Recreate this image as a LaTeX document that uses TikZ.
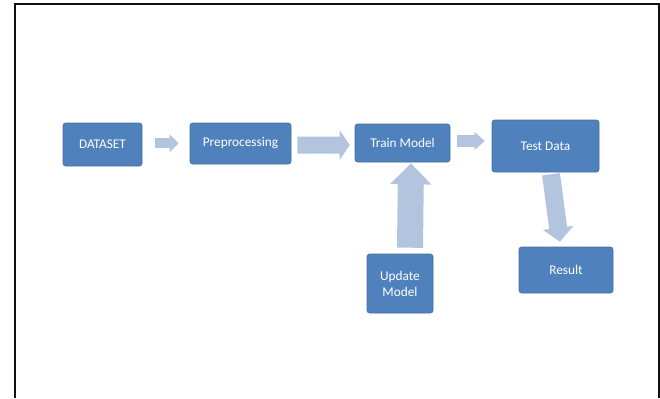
\documentclass[tikz,border=0pt]{standalone}
\usepackage{fontspec}
\setmainfont{Carlito}
\usetikzlibrary{arrows.meta,calc}
\definecolor{boxblue}{HTML}{4F81BD}
\definecolor{boxedge}{HTML}{41719C}
\definecolor{arrowblue}{HTML}{B3C4DE}
\definecolor{framecol}{HTML}{111111}
\tikzset{
  stage/.style={draw=boxedge, line width=0.6bp, fill=boxblue, rounded corners=2.5bp,
    text=white, font=\fontsize{13.3bp}{16bp}\selectfont, align=center,
    inner sep=0pt, anchor=center},
  blockarrow/.style n args={3}{draw=arrowblue, line width=#1, line cap=butt,
    -{Triangle[width=#2, length=#3]}},
}
\begin{document}
\begin{tikzpicture}[x=1bp, y=-1bp]
  \useasboundingbox (0,0) rectangle (660,398);
  % open frame round the diagram
  \draw[framecol, line width=2bp] (15,398) -- (15,4) -- (659,4) -- (659,398);

  % process stages
  \node[stage, minimum width=79bp, minimum height=43bp] (ds) at (102.5,144.5) {DATASET};
  \node[stage, minimum width=101bp, minimum height=41bp] (pp) at (240.5,143.5) {Preprocessing};
  \node[stage, minimum width=95bp, minimum height=38bp] (tm) at (402.5,143) {Train Model};
  \node[stage, minimum width=107bp, minimum height=52bp] (td) at (545.5,146) {Test Data};
  \node[stage, minimum width=66bp, minimum height=59bp] (um) at (400,283.5) {Update\\Model};
  \node[stage, minimum width=94bp, minimum height=46bp] (rs) at (566,270) {Result};

  % block arrows between stages
  \draw[blockarrow={10bp}{17bp}{9bp}] ($(ds.east)+(13,-1.2)$) -- ($(pp.west)+(-11,-0.2)$);
  \draw[blockarrow={17bp}{29bp}{10bp}] ($(pp.east)+(6,1.5)$) -- ($(tm.west)+(-5,2)$);
  \draw[blockarrow={12bp}{17bp}{10bp}] ($(tm.east)+(7,-2)$) -- ($(td.west)+(-7,-5)$);
  \draw[blockarrow={26bp}{40bp}{21bp}] ($(um.north)+(10,-6)$) -- ($(tm.south)+(8.5,1)$);
  \draw[blockarrow={18bp}{30bp}{14bp}] ($(td.south)+(5.5,2)$) -- ($(rs.north)+(-6,-5)$);
\end{tikzpicture}
\end{document}
